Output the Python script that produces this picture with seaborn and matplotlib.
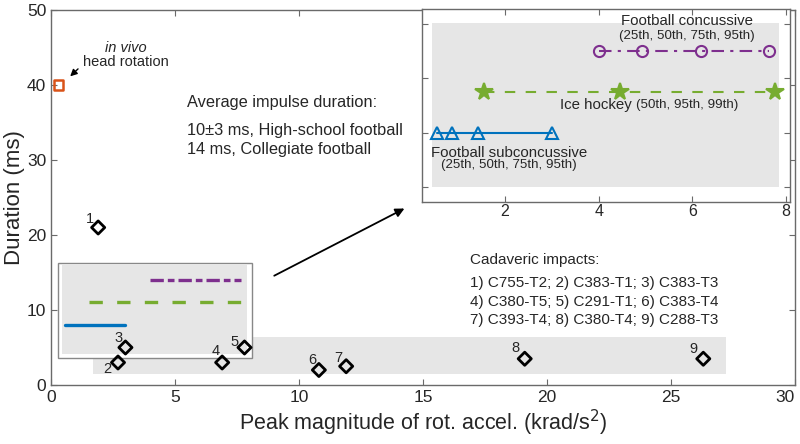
import matplotlib
matplotlib.use('Agg')
import matplotlib.pyplot as plt
from matplotlib.patches import Rectangle
import numpy as np
import pandas as pd
import seaborn as sns

# cadaveric impacts: peak rot. accel. (krad/s^2) and duration (ms)
cad_ids = ['1', '2', '3', '4', '5', '6', '7', '8', '9']
cad_accel = [1.9, 2.7, 3.0, 6.9, 7.8, 10.8, 11.9, 19.1, 26.3]
cad_dur = [21.0, 3.0, 5.0, 3.0, 5.0, 2.0, 2.5, 3.5, 3.5]
cad_label_offsets = [(-6, 6), (-8, -5), (-5, 7), (-5, 8), (-7, 4), (-5, 7), (-6, 6), (-7, 8), (-7, 7)]

# in vivo head rotation
invivo_accel = [0.3]
invivo_dur = [40.0]

# field data percentiles (krad/s^2), drawn at a nominal duration level
subconc_accel = [0.55, 0.86, 1.43, 3.0]
hockey_accel = [1.55, 4.46, 7.77]
conc_accel = [4.0, 4.92, 6.18, 7.64]
group_levels = [8, 11, 14]

blue = '#0072BD'
green = '#77AC30'
purple = '#7E2F8E'
orange = '#D95319'
band = '#e6e6e6'
spine_c = '#6a6a6a'
text_c = '#262626'

sns.set_style('ticks')
plt.rcParams['font.family'] = ['Liberation Sans', 'DejaVu Sans']

groups = pd.concat([
    pd.DataFrame({'accel': subconc_accel, 'dur': group_levels[0], 'group': 'sub'}),
    pd.DataFrame({'accel': hockey_accel, 'dur': group_levels[1], 'group': 'hockey'}),
    pd.DataFrame({'accel': conc_accel, 'dur': group_levels[2], 'group': 'conc'}),
])
# (line colour, dashes in the inset, dashes in the miniature, marker)
styles = {
    'sub': (blue, None, None, '^'),
    'hockey': (green, (5, 5), (4, 4.3), '*'),
    'conc': (purple, (6, 3, 1.5, 3), (4, 1.2, 2, 1.2), 'o'),
}

fig = plt.figure(figsize=(8, 4.44), dpi=100)
ax = fig.add_axes([0.0638, 0.1329, 0.93, 0.8446])


def style_axes(a, size):
    for s in a.spines.values():
        s.set_visible(True)
        s.set_color(spine_c)
        s.set_linewidth(1.0)
    a.tick_params(direction='in', top=True, right=True, colors=spine_c,
                  labelcolor=text_c, labelsize=size, length=4)


# gray band behind the cadaveric points
ax.add_patch(Rectangle((1.7, 1.5), 25.5, 4.9, facecolor=band, edgecolor='none', zorder=0))

# miniature copy of the inset
ax.add_patch(Rectangle((0.28, 3.6), 7.82, 12.7, facecolor='white', edgecolor='#888888', lw=1.0, zorder=1))
ax.add_patch(Rectangle((0.45, 4.1), 7.45, 12.0, facecolor=band, edgecolor='none', zorder=1))
for name, g in groups.groupby('group', sort=False):
    color, _, mini_dash, _ = styles[name]
    sns.lineplot(data=g, x='accel', y='dur', ax=ax, color=color, lw=2.4, zorder=2)
    if mini_dash is not None:
        ax.lines[-1].set_dashes(mini_dash)

sns.scatterplot(x=cad_accel, y=cad_dur, ax=ax, marker='D', s=45, facecolor='none',
                edgecolor='black', linewidth=2, zorder=3)
for lab, x, y, off in zip(cad_ids, cad_accel, cad_dur, cad_label_offsets):
    ax.annotate(lab, (x, y), xytext=off, textcoords='offset points', ha='center',
                va='center', fontsize=10.5, color=text_c)

sns.scatterplot(x=invivo_accel, y=invivo_dur, ax=ax, marker='s', s=45, facecolor='none',
                edgecolor=orange, linewidth=1.8, zorder=3)
ax.annotate('', xy=(0.69, 40.9), xytext=(1.17, 42.4),
            arrowprops=dict(arrowstyle='-|>', color='black', lw=1.0, mutation_scale=10))
ax.text(3.0, 44.9, 'in vivo', style='italic', ha='center', va='center', fontsize=10.5, color=text_c)
ax.text(3.0, 43.0, 'head rotation', ha='center', va='center', fontsize=10.5, color=text_c)

ax.text(5.5, 37.6, 'Average impulse duration:', ha='left', va='center', fontsize=11.8, color=text_c)
ax.text(5.5, 33.9, '10±3 ms, High-school football', ha='left', va='center', fontsize=11.8, color=text_c)
ax.text(5.5, 31.4, '14 ms, Collegiate football', ha='left', va='center', fontsize=11.8, color=text_c)

ax.text(16.9, 16.6, 'Cadaveric impacts:', ha='left', va='center', fontsize=11, color=text_c)
ax.text(16.9, 13.6, '1) C755-T2; 2) C383-T1; 3) C383-T3', ha='left', va='center', fontsize=11, color=text_c)
ax.text(16.9, 11.1, '4) C380-T5; 5) C291-T1; 6) C383-T4', ha='left', va='center', fontsize=11, color=text_c)
ax.text(16.9, 8.7, '7) C393-T4; 8) C380-T4; 9) C288-T3', ha='left', va='center', fontsize=11, color=text_c)

ax.annotate('', xy=(14.35, 23.7), xytext=(8.9, 14.4),
            arrowprops=dict(arrowstyle='-|>', color='black', lw=1.3, mutation_scale=13))

ax.set_xlim(0, 30)
ax.set_ylim(0, 50)
ax.set_xticks(np.arange(0, 31, 5))
ax.set_yticks(np.arange(0, 51, 10))
ax.set_xlabel('Peak magnitude of rot. accel. (krad/s$^2$)', fontsize=15.5, color=text_c, labelpad=2)
ax.set_ylabel('Duration (ms)', fontsize=16, color=text_c, labelpad=1)
style_axes(ax, 12.5)
ax.get_xticklabels()[-1].set_horizontalalignment('right')

# zoomed inset
ins = fig.add_axes([0.527, 0.5457, 0.4604, 0.434])
ins.add_patch(Rectangle((0.45, 4.0), 7.4, 12.1, facecolor=band, edgecolor='none', zorder=0))
for name, g in groups.groupby('group', sort=False):
    color, dash, _, mk = styles[name]
    star = mk == '*'
    sns.lineplot(data=g, x='accel', y='dur', ax=ins, color=color, lw=1.5,
                 marker=mk, markersize=13 if star else 8,
                 markerfacecolor=color if star else 'none',
                 markeredgecolor=color, markeredgewidth=1.5, zorder=2)
    if dash is not None:
        ins.lines[-1].set_dashes(dash)

ins.text(5.88, 16.2, 'Football concussive', ha='center', va='center', fontsize=10.8, color=text_c)
ins.text(5.88, 15.1, '(25th, 50th, 75th, 95th)', ha='center', va='center', fontsize=9.6, color=text_c)
ins.text(4.7, 10.0, 'Ice hockey', ha='right', va='center', fontsize=10.8, color=text_c)
ins.text(4.8, 10.0, '(50th, 95th, 99th)', ha='left', va='center', fontsize=9.6, color=text_c)
ins.text(2.08, 6.5, 'Football subconcussive', ha='center', va='center', fontsize=10.8, color=text_c)
ins.text(2.08, 5.6, '(25th, 50th, 75th, 95th)', ha='center', va='center', fontsize=9.6, color=text_c)

ins.set_xlim(0.22, 8.08)
ins.set_ylim(2.9, 17.1)
ins.set_xticks([2, 4, 6, 8])
ins.set_yticks([4, 8, 12, 16])
ins.set_yticklabels([])
ins.set_xlabel('')
ins.set_ylabel('')
style_axes(ins, 11.5)
ins.tick_params(pad=2)

fig.savefig('out.png', dpi=100)
